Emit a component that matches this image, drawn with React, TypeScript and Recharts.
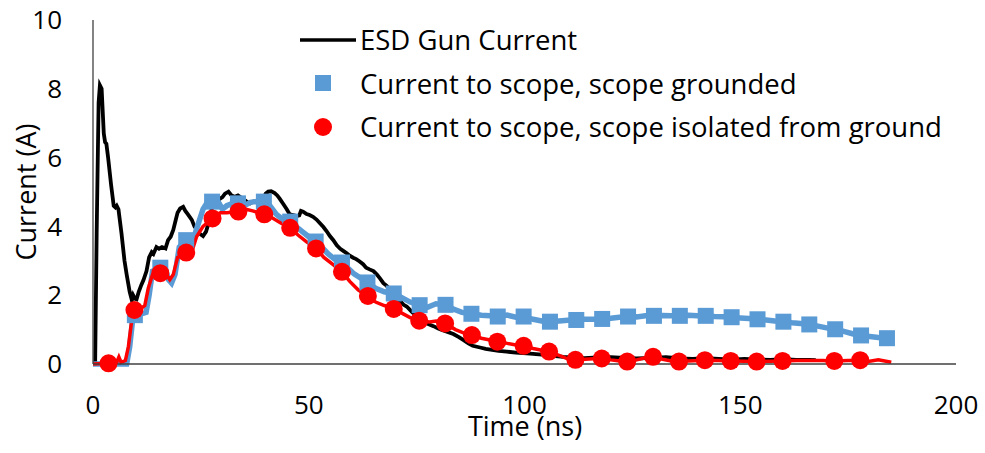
import React from 'react';
import { ComposedChart, Line, Scatter, XAxis, YAxis } from 'recharts';

// ESD gun current (ns, A)
const gunTime = [
  0, 0.5, 0.85, 1.3, 1.6, 2.0, 2.5, 2.8, 3.1, 3.5, 4.2, 4.8, 5.2, 5.5, 5.9, 6.6, 7.3, 7.8, 8.5, 9.0,
  9.3, 9.7, 10.1, 10.6, 11.2, 11.7, 12.4, 13.0, 13.6, 14.0, 14.7, 15.3, 16.0, 16.8, 17.4, 18.0, 18.6, 19.2, 19.6, 20.2,
  20.9, 21.4, 22.0, 22.9, 23.5, 24.1, 24.8, 25.5, 26.2, 26.8, 27.5, 28.2, 28.8, 29.4, 30.0, 30.6, 31.4, 32.1, 32.9, 33.6,
  34.3, 35.0, 35.8, 36.4, 37.2, 38.0, 38.8, 39.5, 40.0, 40.6, 41.3, 42.1, 42.7, 43.3, 44.1, 44.9, 45.6, 46.4, 47.2, 47.8,
  48.2, 48.7, 49.5, 50.2, 51.0, 51.8, 52.6, 53.4, 54.2, 54.9, 55.7, 56.5, 57.3, 58.0, 58.8, 59.5, 60.3, 61.0, 61.8, 62.6,
  63.3, 64.1, 65.0, 65.8, 66.5, 67.3, 68.0, 69.0, 70.0, 71.0, 72.0, 72.7, 74.0, 75.5, 76.5, 77.3, 78.9, 80.0, 81.0, 82.0,
  83.5, 84.8, 85.8, 87.0, 88.0, 89.7, 91.0, 92.5, 94.0, 95.9, 98.0, 101.3, 104.0, 106.5, 109.0, 111.5, 113.9, 117.0, 120.0, 123.0,
  126.0, 129.5, 132.8, 136.0, 139.0, 142.0, 145.0, 148.0, 151.0, 154.0, 157.0, 160.0, 163.0, 166.0, 167.5,
];
const gunCurrent = [
  0, 0.05, 3.8, 7.6, 8.1, 8.0, 6.7, 6.45, 6.4, 6.0, 5.2, 4.6, 4.55, 4.6, 4.5, 3.8, 3.0, 2.6, 2.1, 1.86,
  2.0, 1.9, 1.88, 2.1, 2.3, 2.44, 2.7, 3.1, 3.25, 3.2, 3.4, 3.35, 3.4, 3.36, 3.6, 3.7, 3.9, 4.2, 4.4, 4.52,
  4.57, 4.45, 4.35, 4.19, 4.0, 3.9, 3.78, 3.72, 3.85, 4.1, 4.5, 4.75, 4.86, 4.8, 4.85, 4.95, 5.01, 4.9, 4.86, 4.9,
  4.84, 4.78, 4.7, 4.67, 4.72, 4.75, 4.72, 4.8, 4.95, 5.01, 5.02, 4.97, 4.9, 4.8, 4.65, 4.5, 4.35, 4.33, 4.3, 4.32,
  4.45, 4.43, 4.36, 4.33, 4.28, 4.2, 4.09, 3.98, 3.85, 3.72, 3.6, 3.45, 3.35, 3.29, 3.22, 3.15, 3.09, 3.05, 2.98, 2.9,
  2.8, 2.75, 2.7, 2.6, 2.49, 2.35, 2.28, 2.15, 2.0, 1.85, 1.72, 1.67, 1.5, 1.35, 1.25, 1.18, 1.1, 1.03, 0.98, 0.94,
  0.87, 0.78, 0.7, 0.6, 0.53, 0.48, 0.44, 0.41, 0.38, 0.36, 0.33, 0.3, 0.27, 0.24, 0.21, 0.19, 0.17, 0.19, 0.2, 0.18,
  0.16, 0.18, 0.2, 0.16, 0.15, 0.17, 0.15, 0.13, 0.15, 0.13, 0.12, 0.14, 0.12, 0.12, 0.11,
];

// scope grounded: trace and markers
const groundedTime = [
  0, 3.6, 7.8, 8.5, 9.2, 9.7, 11.0, 12.3, 13.0, 13.8, 15.6, 16.8, 17.5, 18.2, 19.0, 20.0, 21.6, 23.2, 24.2, 25.5,
  26.5, 27.6, 29.0, 30.0, 31.0, 32.0, 33.6, 35.0, 36.5, 37.5, 39.6, 41.0, 42.5, 44.0, 45.7, 47.0, 48.5, 50.0, 51.6, 53.0,
  54.5, 56.0, 57.7, 59.0, 60.5, 62.0, 63.6, 65.5, 67.5, 69.7, 72.0, 73.5, 75.7, 77.5, 79.5, 81.7, 83.5, 85.5, 87.7, 90.0,
  92.0, 93.8, 96.0, 98.0, 99.8, 102.0, 104.0, 105.9, 108.0, 110.0, 112.0, 114.0, 116.0, 118.0, 120.0, 122.0, 124.0, 126.0, 128.0, 130.0,
  132.0, 134.0, 136.0, 138.0, 140.0, 142.0, 144.0, 146.0, 148.0, 150.0, 152.0, 154.0, 156.0, 158.0, 160.0, 162.0, 164.0, 166.0, 168.0, 170.0,
  172.0, 174.0, 176.0, 178.0, 180.0, 182.0, 184.0,
];
const groundedCurrent = [
  0, 0, 0, 0.5, 1.3, 1.42, 1.45, 1.5, 2.0, 2.7, 2.8, 2.75, 2.45, 2.35, 2.6, 3.4, 3.6, 3.6, 4.0, 4.5,
  4.7, 4.72, 4.72, 4.5, 4.6, 4.65, 4.67, 4.6, 4.7, 4.72, 4.72, 4.6, 4.35, 4.2, 4.14, 4.0, 3.85, 3.7, 3.56, 3.4,
  3.2, 3.05, 2.95, 2.8, 2.62, 2.5, 2.37, 2.2, 2.1, 2.05, 1.9, 1.8, 1.71, 1.65, 1.75, 1.72, 1.6, 1.5, 1.46, 1.42,
  1.4, 1.38, 1.42, 1.36, 1.38, 1.3, 1.25, 1.23, 1.25, 1.27, 1.28, 1.3, 1.3, 1.31, 1.33, 1.36, 1.38, 1.37, 1.4, 1.4,
  1.41, 1.4, 1.4, 1.42, 1.4, 1.4, 1.38, 1.37, 1.36, 1.34, 1.32, 1.3, 1.28, 1.25, 1.23, 1.2, 1.18, 1.15, 1.1, 1.05,
  1.01, 0.95, 0.88, 0.83, 0.8, 0.77, 0.75,
];
const groundedMarkTime = [
  9.7, 15.6, 21.6, 27.6, 33.6, 39.6, 45.7, 51.6, 57.7, 63.6, 69.7, 75.7, 81.7, 87.7, 93.8, 99.8, 105.9, 112.0, 118.0, 124.0,
  130.0, 136.0, 142.0, 148.0, 154.0, 160.0, 166.0, 172.0, 178.0, 184.0,
];
const groundedMarkCurrent = [
  1.42, 2.8, 3.6, 4.72, 4.67, 4.72, 4.14, 3.56, 2.95, 2.37, 2.05, 1.71, 1.72, 1.46, 1.38, 1.38, 1.23, 1.28, 1.31, 1.38,
  1.4, 1.4, 1.4, 1.36, 1.3, 1.23, 1.15, 1.01, 0.83, 0.75,
];

// scope isolated from ground: trace and markers
const isolatedTime = [
  0, 3.6, 5.5, 6.0, 6.5, 7.5, 8.2, 9.0, 9.6, 11.0, 12.0, 12.8, 13.8, 15.6, 17.0, 17.8, 18.6, 19.6, 21.6, 23.0,
  24.0, 25.5, 27.7, 29.5, 31.0, 33.7, 35.5, 37.0, 39.7, 41.5, 43.5, 45.7, 47.5, 49.5, 51.7, 53.5, 55.5, 57.7, 59.5, 61.5,
  63.7, 65.5, 67.5, 69.7, 72.0, 73.5, 75.6, 78.0, 79.5, 81.6, 84.0, 86.0, 87.8, 90.0, 92.0, 93.7, 96.0, 98.0, 99.8, 102.0,
  104.0, 105.7, 108.0, 110.0, 111.8, 114.0, 116.0, 117.9, 120.0, 122.0, 123.8, 126.0, 128.0, 129.8, 132.0, 134.0, 135.8, 138.0, 141.8, 145.0,
  147.8, 151.0, 153.8, 157.0, 159.8, 163.0, 165.8, 169.0, 171.8, 175.0, 177.8, 180.0, 182.0, 185.0,
];
const isolatedCurrent = [
  0, 0.02, 0.05, 0.2, 0.05, 0.1, 0.5, 1.3, 1.57, 1.6, 1.7, 2.2, 2.6, 2.64, 2.6, 2.45, 2.6, 3.1, 3.24, 3.3,
  3.7, 4.0, 4.23, 4.4, 4.4, 4.43, 4.5, 4.45, 4.35, 4.25, 4.1, 3.96, 3.75, 3.55, 3.36, 3.1, 2.9, 2.68, 2.4, 2.15,
  1.98, 1.8, 1.7, 1.6, 1.45, 1.35, 1.26, 1.22, 1.25, 1.18, 1.0, 0.9, 0.84, 0.75, 0.7, 0.65, 0.6, 0.55, 0.53, 0.45,
  0.4, 0.36, 0.25, 0.15, 0.12, 0.14, 0.15, 0.16, 0.12, 0.09, 0.07, 0.12, 0.18, 0.21, 0.14, 0.09, 0.07, 0.09, 0.11, 0.1,
  0.09, 0.08, 0.07, 0.08, 0.09, 0.1, 0.1, 0.1, 0.09, 0.1, 0.11, 0.08, 0.12, 0.05,
];
const isolatedMarkTime = [
  3.6, 9.6, 15.6, 21.6, 27.7, 33.7, 39.7, 45.7, 51.7, 57.7, 63.7, 69.7, 75.6, 81.6, 87.8, 93.7, 99.8, 105.7, 111.8, 117.9,
  123.8, 129.8, 135.8, 141.8, 147.8, 153.8, 159.8, 171.8, 177.8,
];
const isolatedMarkCurrent = [
  0.02, 1.57, 2.64, 3.24, 4.23, 4.43, 4.35, 3.96, 3.36, 2.68, 1.98, 1.6, 1.26, 1.18, 0.84, 0.65, 0.53, 0.36, 0.12, 0.16,
  0.07, 0.21, 0.07, 0.11, 0.09, 0.07, 0.09, 0.09, 0.11,
];

const xTicks = [0, 50, 100, 150, 200];
const yTicks = [0, 2, 4, 6, 8, 10];

const zip = (xs: number[], ys: number[]) => xs.map((x, i) => ({ x, y: ys[i] }));

const FONT = '"Open Sans", sans-serif';
const BLUE = '#5B9BD5';
const RED = '#FF0000';

const legendItems = [
  { name: 'ESD Gun Current', kind: 'line' },
  { name: 'Current to scope, scope grounded', kind: 'square' },
  { name: 'Current to scope, scope isolated from ground', kind: 'circle' },
];

// legend sits over the plot, so it is drawn as a plain overlay
const LegendBox = () => (
  <div style={{ position: 'absolute', left: 296, top: 18, fontFamily: FONT, fontSize: 27.5, color: '#000', whiteSpace: 'nowrap' }}>
    {legendItems.map((item) => (
      <div key={item.name} style={{ display: 'flex', alignItems: 'center', height: 43.5 }}>
        <svg width={62} height={20} style={{ marginRight: 2 }}>
          {item.kind === 'line' && <line x1={4} y1={10} x2={60} y2={10} stroke="#000" strokeWidth={3.5} />}
          {item.kind === 'square' && <rect x={19} y={2} width={16} height={16} fill={BLUE} />}
          {item.kind === 'circle' && <circle cx={27} cy={10} r={9} fill={RED} />}
        </svg>
        <span>{item.name}</span>
      </div>
    ))}
  </div>
);

const Square = (props: any) => (
  <rect x={props.cx - 8} y={props.cy - 8} width={16} height={16} fill={BLUE} />
);
const Dot = (props: any) => <circle cx={props.cx} cy={props.cy} r={9} fill={RED} />;

const YTitle = () => (
  <text
    x={25}
    y={192}
    transform="rotate(-90 25 192)"
    textAnchor="middle"
    dominantBaseline="central"
    fontFamily={FONT}
    fontSize={27}
    fill="#000"
  >
    Current (A)
  </text>
);

const XTitle = () => (
  <text x={525} y={436} textAnchor="middle" fontFamily={FONT} fontSize={27} fill="#000">
    Time (ns)
  </text>
);

export default function App() {
  const tickStyle = { fill: '#000', fontSize: 26, fontFamily: FONT };
  return (
    <div style={{ position: 'absolute', left: 0, top: 0, width: 985, height: 453 }}>
      <ComposedChart width={985} height={453} margin={{ top: 20, right: 29, bottom: 0, left: 0 }}>
        <XAxis
          type="number"
          dataKey="x"
          domain={[0, 200]}
          ticks={xTicks}
          allowDataOverflow
          axisLine={{ stroke: '#404040', strokeWidth: 1.3 }}
          tickLine={false}
          tickSize={0}
          tickMargin={32}
          height={89}
          tick={tickStyle}
          label={{ content: () => <XTitle /> }}
        />
        <YAxis
          type="number"
          domain={[0, 10]}
          ticks={yTicks}
          width={93}
          axisLine={{ stroke: '#404040', strokeWidth: 1.3 }}
          tickLine={false}
          tickSize={0}
          tickMargin={31}
          tick={tickStyle}
          label={{ content: () => <YTitle /> }}
        />
        <Line data={zip(gunTime, gunCurrent)} dataKey="y" type="linear" stroke="#000" strokeWidth={3.8} dot={false} activeDot={false} isAnimationActive={false} />
        <Line data={zip(groundedTime, groundedCurrent)} dataKey="y" type="linear" stroke={BLUE} strokeWidth={5.5} dot={false} activeDot={false} isAnimationActive={false} />
        <Scatter data={zip(groundedMarkTime, groundedMarkCurrent)} dataKey="y" shape={Square} isAnimationActive={false} />
        <Line data={zip(isolatedTime, isolatedCurrent)} dataKey="y" type="linear" stroke={RED} strokeWidth={3.5} dot={false} activeDot={false} isAnimationActive={false} />
        <Scatter data={zip(isolatedMarkTime, isolatedMarkCurrent)} dataKey="y" shape={Dot} isAnimationActive={false} />
      </ComposedChart>
      <LegendBox />
    </div>
  );
}
